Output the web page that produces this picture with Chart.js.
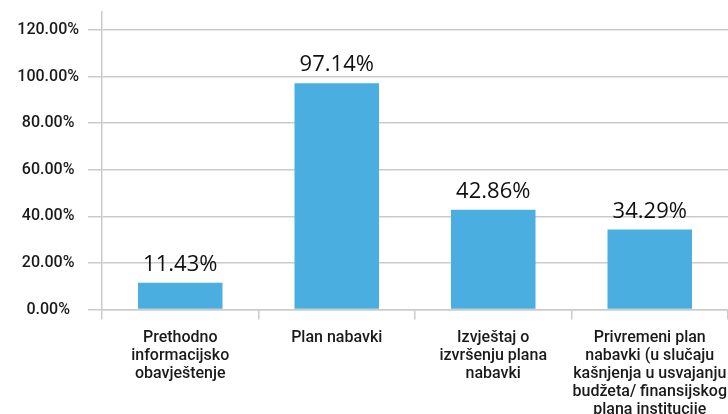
<!DOCTYPE html>
<html>
<head>
<meta charset="utf-8">
<script src="https://cdn.jsdelivr.net/npm/chart.js@4.4.1/dist/chart.umd.min.js"></script>
<style>
html,body{margin:0;padding:0;overflow:hidden;background:#fff;width:728px;height:414px;}
#wrap{position:relative;width:728px;height:432px;}
</style>
</head>
<body>
<div id="wrap"><canvas id="c" width="728" height="432"></canvas></div>
<script>
const categories = [
  ["Prethodno", "informacijsko", "obavještenje"],
  ["Plan nabavki"],
  ["Izvještaj o", "izvršenju plana", "nabavki"],
  ["Privremeni plan", "nabavki (u slučaju", "kašnjenja u usvajanju", "budžeta/ finansijskog", "plana institucije"]
];
const values = [11.43, 97.14, 42.86, 34.29];
const yTicks = [0, 20, 40, 60, 80, 100, 120];

const GRID = '#cbcbcb';

const valueLabels = {
  id: 'valueLabels',
  afterDatasetsDraw(chart) {
    const ctx = chart.ctx;
    const meta = chart.getDatasetMeta(0);
    ctx.save();
    ctx.font = '400 22px "Open Sans", "Noto Sans", sans-serif';
    ctx.fillStyle = '#111';
    ctx.textAlign = 'center';
    ctx.textBaseline = 'alphabetic';
    meta.data.forEach((bar, i) => {
      ctx.fillText(values[i].toFixed(2) + '%', bar.x, bar.y - 12);
    });
    ctx.restore();
  }
};

new Chart(document.getElementById('c'), {
  type: 'bar',
  data: {
    labels: categories,
    datasets: [{
      data: values,
      backgroundColor: '#4baee0',
      borderWidth: 0,
      barPercentage: 0.54,
      categoryPercentage: 1.0
    }]
  },
  options: {
    responsive: false,
    animation: false,
    devicePixelRatio: 1,
    layout: { padding: { top: 12, right: 0, left: 0, bottom: 0 } },
    plugins: { legend: { display: false }, tooltip: { enabled: false } },
    scales: {
      y: {
        min: 0,
        max: 127.7,
        afterBuildTicks: axis => { axis.ticks = yTicks.map(v => ({ value: v })); },
        afterFit: s => { s.width = 102; s.paddingTop = 0; s.paddingBottom = 0; },
        ticks: {
          padding: 9,
          crossAlign: 'center',
          color: '#1a1a1a',
          font: { family: 'Roboto', size: 16, weight: '500' },
          callback: v => Number(v).toFixed(2) + '%'
        },
        grid: { color: GRID, lineWidth: 1.5, tickLength: 14, drawTicks: true },
        border: { display: true, color: GRID, width: 1.5 }
      },
      x: {
        afterFit: s => { s.height = 122.5; s.paddingLeft = 0; s.paddingRight = 0; },
        ticks: {
          padding: 10,
          color: '#1a1a1a',
          maxRotation: 0,
          autoSkip: false,
          font: { family: 'Roboto', size: 16, weight: '500', lineHeight: 1.12 }
        },
        grid: { display: true, drawOnChartArea: false, drawTicks: true, tickLength: 10, color: GRID, lineWidth: 1.5, offset: true },
        border: { display: true, color: GRID, width: 1.5 }
      }
    }
  },
  plugins: [valueLabels]
});
</script>
</body>
</html>
